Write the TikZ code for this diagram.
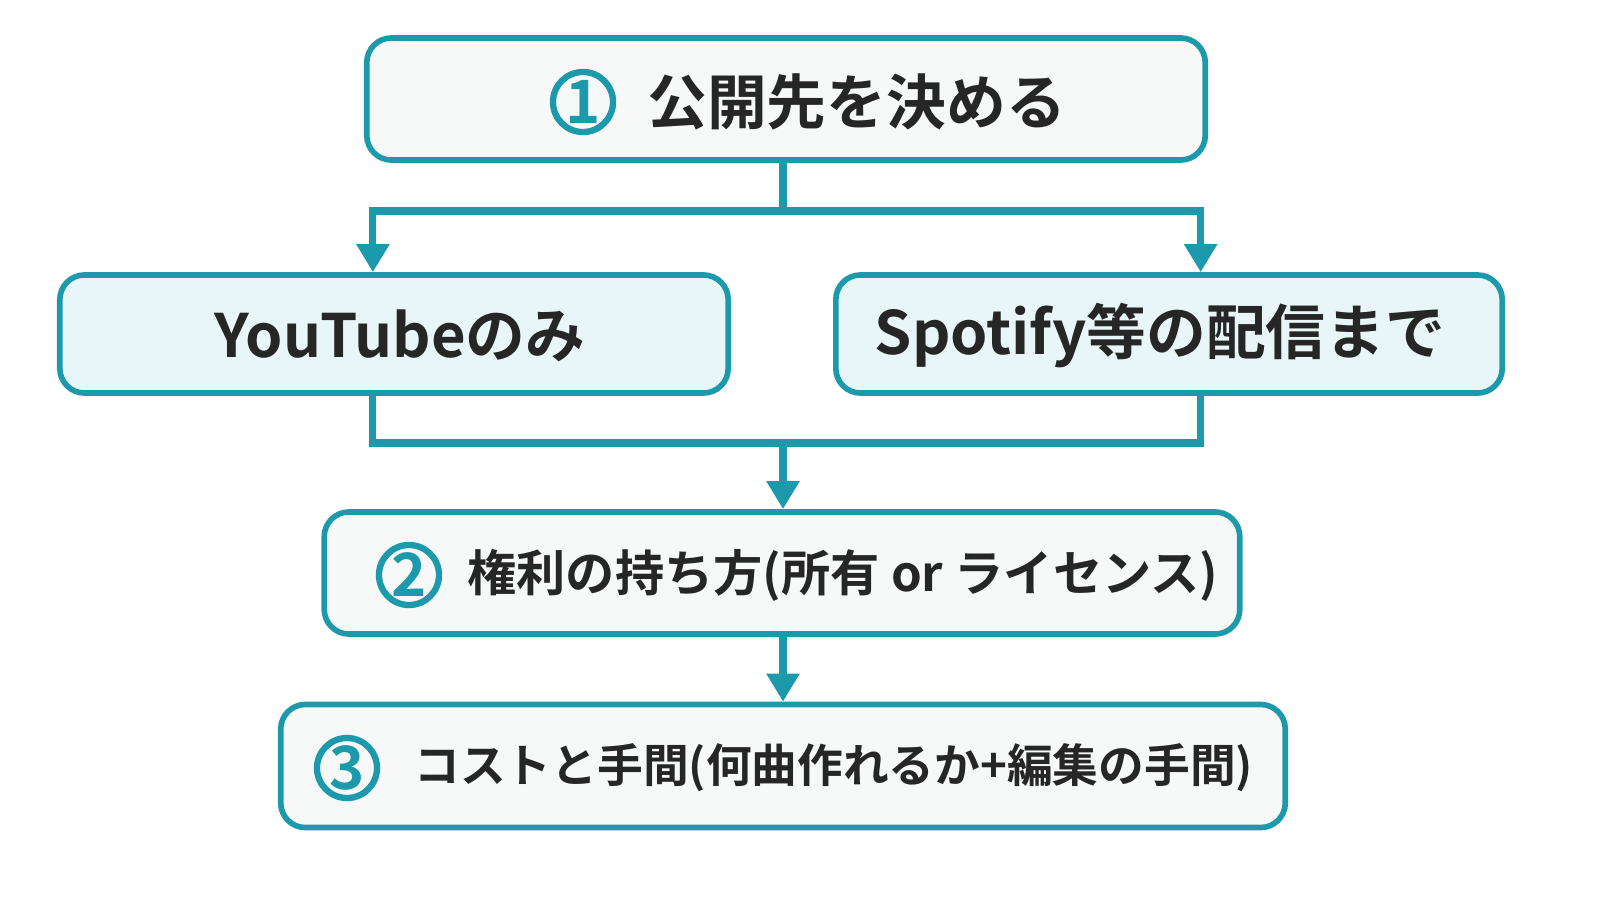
\documentclass[tikz,border=0pt]{standalone}
\usepackage{fontspec}
\setmainfont{Noto Sans CJK JP}
\newfontfamily\jpbold{Noto Sans CJK JP Bold}
\usetikzlibrary{arrows.meta,positioning}
\definecolor{tealline}{HTML}{1C9AAB}
\definecolor{stepfill}{HTML}{F7F9F9}
\definecolor{choicefill}{HTML}{E9F6F8}
\begin{document}
\begin{tikzpicture}[x=0.01cm,y=-0.01cm]
\tikzstyle{stepbox} = [draw=tealline, line width=1.6pt, rounded corners=7pt, fill=stepfill, inner sep=0]
\tikzstyle{choicebox} = [stepbox, fill=choicefill]
\tikzstyle{num} = [circle, draw=tealline, line width=1.8pt, minimum size=0.6cm, inner sep=0, text=tealline, font=\jpbold\fontsize{17}{17}\selectfont]
\tikzstyle{label} = [font=\jpbold\fontsize{17}{20}\selectfont, text=black!85]
\tikzstyle{smalllabel} = [font=\jpbold\fontsize{14}{17}\selectfont, text=black!85]
\tikzstyle{link} = [draw=tealline, line width=2pt]
\tikzstyle{arrow} = [link, -{Triangle[width=9pt,length=8pt]}]

\fill[white] (0,0) rectangle (1600,900);

% boxes
\node [stepbox, minimum width=8.38cm, minimum height=1.22cm] (s1) at (786,99) {};
\node [choicebox, minimum width=6.68cm, minimum height=1.18cm] (yt) at (394,334) {};
\node [choicebox, minimum width=6.66cm, minimum height=1.18cm] (sp) at (1169,334) {};
\node [stepbox, minimum width=9.15cm, minimum height=1.22cm] (s2) at (782,573) {};
\node [stepbox, minimum width=10.04cm, minimum height=1.23cm] (s3) at (783,766) {};

% texts
\node [num] (n1) at (583,102) {1};
\node [label, anchor=west] (t1) at (635,102) {公開先を決める};
\node [label] (tyt) at (400,336) {YouTubeのみ};
\node [label] (tsp) at (1160,336) {Spotify等の配信まで};
\node [num] (n2) at (409,575) {2};
\node [smalllabel, anchor=west] (t2) at (455,575) {権利の持ち方(所有 or ライセンス)};
\node [num] (n3) at (347,768) {3};
\node [smalllabel, anchor=west, font=\jpbold\fontsize{13}{16}\selectfont] (t3) at (402,768) {コストと手間(何曲作れるか+編集の手間)};

% connectors
\coordinate (j1) at (783,211);
\coordinate (j2) at (783,443);
\draw [link] (s1.south -| j1) -- (j1);
\draw [arrow] (j1) -| ([xshift=-6pt]yt.north);
\draw [arrow] (j1) -| ([xshift=9pt]sp.north);
\draw [link] ([xshift=-6pt]yt.south) |- (j2) -| ([xshift=9pt]sp.south);
\draw [arrow] (j2) -- (j2 |- s2.north);
\draw [arrow] (s2.south -| j2) -- (j2 |- s3.north);

\pgfresetboundingbox
\useasboundingbox (0,0) rectangle (1600,900);
\end{tikzpicture}
\end{document}
